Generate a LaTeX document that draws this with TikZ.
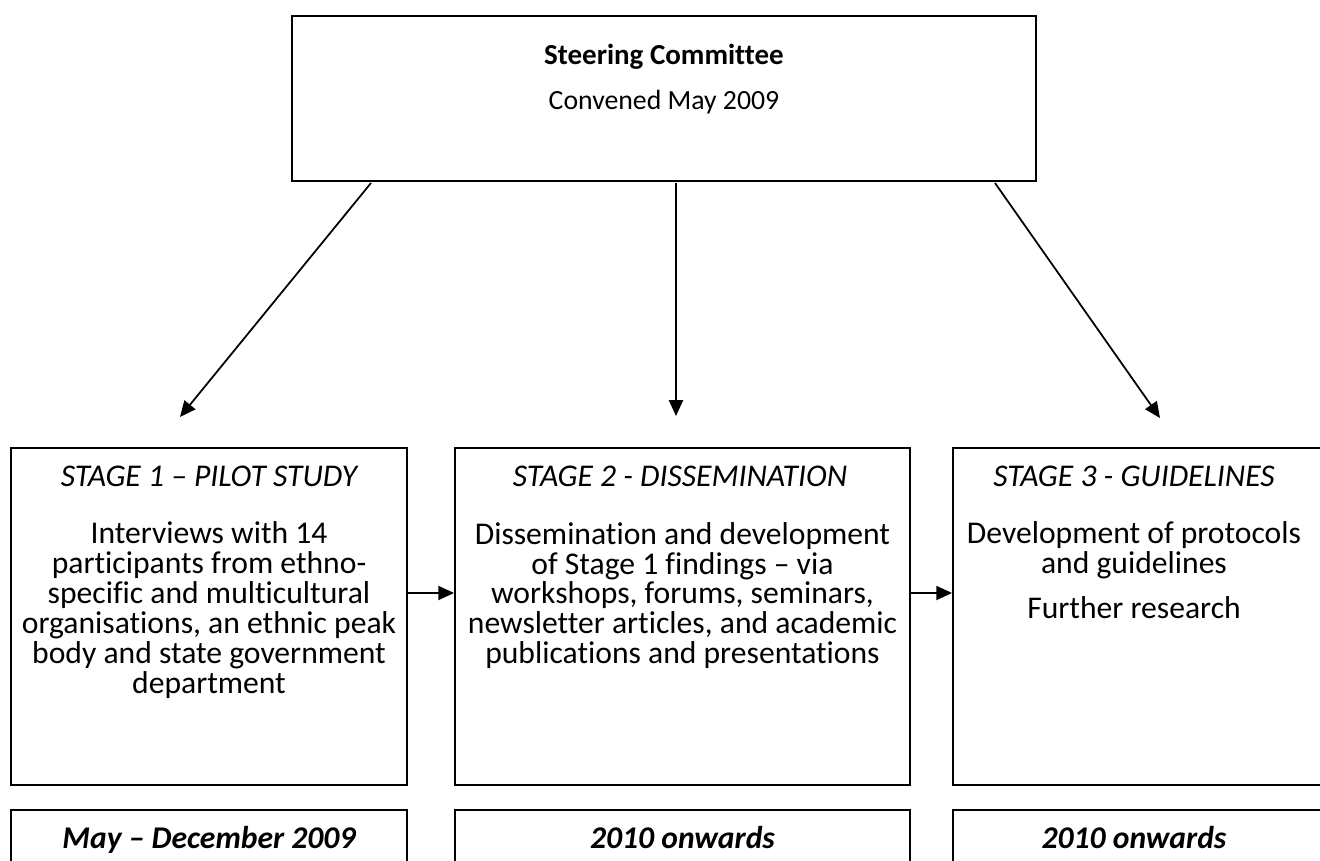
\documentclass[tikz,border=0pt]{standalone}
\usepackage{fontspec}
\setmainfont{Carlito}[Ligatures=NoCommon]
\usetikzlibrary{arrows.meta,positioning}
\tikzstyle{box} = [rectangle, draw, line width=1.1pt, inner sep=0pt]
\tikzstyle{txt} = [align=center, inner sep=0pt,
    font=\fontsize{18}{17}\selectfont]
\tikzstyle{one} = [txt, text height=12pt, text depth=4pt]
\tikzstyle{arr} = [-{Triangle[length=9pt,width=8pt]}, line width=1pt]

\begin{document}
\begin{tikzpicture}[x=0.02cm,y=-0.02cm]
  \useasboundingbox (0,0) rectangle (1320,861);
  \clip (0,0) rectangle (1320,861);

  % committee
  \node[box, minimum width=14.88cm, minimum height=3.3cm] (sc) at (664,98.5) {};
  \node[one, font=\fontsize{16.5}{17}\selectfont\bfseries] (sct) at (664,57) {Steering Committee};
  \node[one, font=\fontsize{15.8}{17}\selectfont] (scd) at (664,102) {Convened May 2009};

  % stages
  \node[box, minimum width=7.92cm, minimum height=6.74cm] (s1) at (209,616.5) {};
  \node[box, minimum width=9.1cm, minimum height=6.74cm] (s2) at (682.5,616.5) {};
  \node[box, minimum width=7.92cm, minimum height=6.74cm] (s3) at (1151,616.5) {};

  \node[one] (t1) at (209,479) {\itshape STAGE 1 – PILOT STUDY};
  \node[one] (t2) at (680,479) {\itshape STAGE 2 - DISSEMINATION};
  \node[one] (t3) at (1134,479) {\itshape STAGE 3 - GUIDELINES};

  \node[txt] (b1) at (209,610) {Interviews with 14\\ participants from ethno-\\
    specific and multicultural\\ organisations, an ethnic peak\\
    body and state government\\ department};
  \node[txt] (b2) at (682.5,595.5) {Dissemination and development\\
    of Stage 1 findings – via\\ workshops, forums, seminars,\\
    newsletter articles, and academic\\ publications and presentations};
  \node[txt] (b3) at (1134,550.5) {Development of protocols\\ and guidelines};
  \node[one] (b4) at (1134,611) {Further research};

  % dates
  \node[box, minimum width=7.92cm, minimum height=2cm, anchor=north] (d1) at (209,809) {};
  \node[box, minimum width=9.1cm, minimum height=2cm, anchor=north] (d2) at (682.5,809) {};
  \node[box, minimum width=7.92cm, minimum height=2cm, anchor=north] (d3) at (1151,809) {};
  \node[one] (dt1) at (209,841) {\bfseries\itshape May – December 2009};
  \node[one] (dt2) at (682.5,841) {\bfseries\itshape 2010 onwards};
  \node[one] (dt3) at (1134,841) {\bfseries\itshape 2010 onwards};

  % arrows
  \coordinate (a1) at (371,183);
  \coordinate (e1) at (180,417);
  \coordinate (a2) at (676,183);
  \coordinate (e2) at (676,416);
  \coordinate (a3) at (995,183);
  \coordinate (e3) at (1160,418);
  \coordinate (row) at (0,593);

  \draw[arr] (a1) -- (e1);
  \draw[arr] (a2) -- (e2);
  \draw[arr] (a3) -- (e3);
  \draw[arr] (s1.east |- row) -- (s2.west |- row);
  \draw[arr] (s2.east |- row) -- (s3.west |- row);
\end{tikzpicture}
\end{document}
